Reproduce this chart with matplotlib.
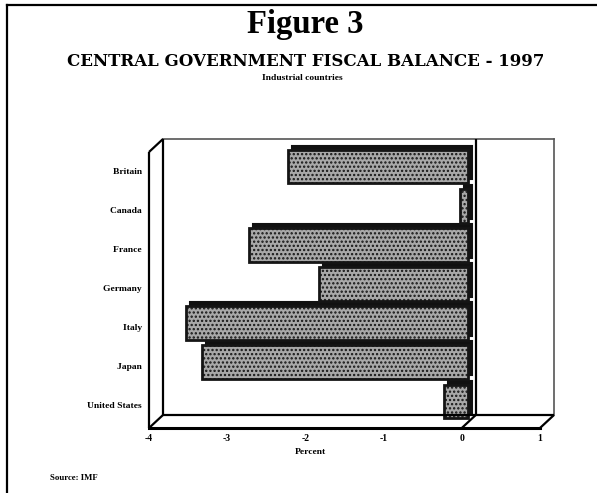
import matplotlib.pyplot as plt
import matplotlib.transforms as mtransforms

countries = ['Britain', 'Canada', 'France', 'Germany', 'Italy', 'Japan', 'United States']
balance = [-2.3, -0.1, -2.8, -1.9, -3.6, -3.4, -0.3]
x_ticks = [-4, -3, -2, -1, 0, 1]

W, H = 597, 493
plt.rcParams['hatch.linewidth'] = 1.1
fig = plt.figure(figsize=(W / 100, H / 100), dpi=100)
fig.patch.set_facecolor('white')

# front plane of the pseudo-3D box, in pixels
left, right, top, bottom = 149, 540, 152, 428
ax = fig.add_axes([left / W, 1 - bottom / H, (right - left) / W, (bottom - top) / H])
ax.set_xlim(-4, 1)
ax.set_ylim(len(countries) - 0.45, -0.5)
ax.axis('off')

y0, y1 = ax.get_ylim()
xpp = 5 / (right - left)          # data units per pixel
ypp = (y0 - y1) / (bottom - top)
dx, dy = 14 * xpp, 13 * ypp       # depth of the box

lk = dict(color='black', lw=1.6, clip_on=False, solid_capstyle='butt')
gk = dict(color='#555555', lw=1.2, clip_on=False)
# front lines
ax.plot([-4, -4], [y1, y0], **lk)
ax.plot([-4, 1], [y0, y0], color='black', lw=2.2, clip_on=False)
# back wall
ax.plot([-4 + dx, 1 + dx], [y1 - dy, y1 - dy], **gk)
ax.plot([-4 + dx, -4 + dx], [y1 - dy, y0 - dy], **lk)
ax.plot([1 + dx, 1 + dx], [y1 - dy, y0 - dy], **gk)
ax.plot([-4 + dx, 1 + dx], [y0 - dy, y0 - dy], **lk)
ax.plot([dx, dx], [y1 - dy, y0 - dy], **lk)
# depth edges
ax.plot([-4, -4 + dx], [y1, y1 - dy], **lk)
for xv in [-4, 0, 1]:
    ax.plot([xv, xv + dx], [y0, y0 - dy], **lk)

# bars: dark depth face behind, textured front face
ypos = list(range(len(countries)))
back = mtransforms.ScaledTranslation(10 / 100, 9 / 100, fig.dpi_scale_trans)
front = mtransforms.ScaledTranslation(6 / 100, 5 / 100, fig.dpi_scale_trans)
shade = ax.barh(ypos, balance, height=0.86, color='#111111', edgecolor='#111111', lw=1.5)
for p in shade:
    p.set_transform(ax.transData + back)
    p.set_clip_on(False)
bars = ax.barh(ypos, balance, height=0.86, color='#a8a8a8', edgecolor='#151515',
               lw=2.0, hatch='....')
for p in bars:
    p.set_transform(ax.transData + front)
    p.set_clip_on(False)

serif = ['Liberation Serif', 'DejaVu Serif']
for yv, name in zip(ypos, countries):
    ax.text(-4, yv, name + '   ', ha='right', va='center', fontsize=6.8,
            fontweight='bold', family=serif)
for xv in x_ticks:
    ax.text(xv, y0, '\n%d' % xv, ha='center', va='top', fontsize=7,
            fontweight='bold', family=serif, linespacing=0.6)
fig.text(310 / W, 1 - 452 / H, 'Percent', ha='center', va='center', fontsize=6.8,
         fontweight='bold', family=serif)

fig.text(305 / W, 1 - 25 / H, 'Figure 3', ha='center', va='center', fontsize=23.5,
         fontweight='bold', family=serif)
fig.text(306 / W, 1 - 62 / H, 'CENTRAL GOVERNMENT FISCAL BALANCE - 1997', ha='center',
         va='center', fontsize=12, fontweight='bold', family=['DejaVu Serif'])
fig.text(302 / W, 1 - 78 / H, 'Industrial countries', ha='center', va='center',
         fontsize=6.8, fontweight='bold', family=serif)
fig.text(50 / W, 1 - 478 / H, 'Source: IMF', ha='left', va='center', fontsize=6.3,
         fontweight='bold', family=serif)

# page border (left and top)
fig.add_artist(plt.Line2D([7 / W, 7 / W], [0, 1 - 5 / H], color='black', lw=1.6))
fig.add_artist(plt.Line2D([7 / W, 1], [1 - 5 / H, 1 - 5 / H], color='black', lw=1.6))

plt.savefig('out.png', dpi=100)
plt.close()
